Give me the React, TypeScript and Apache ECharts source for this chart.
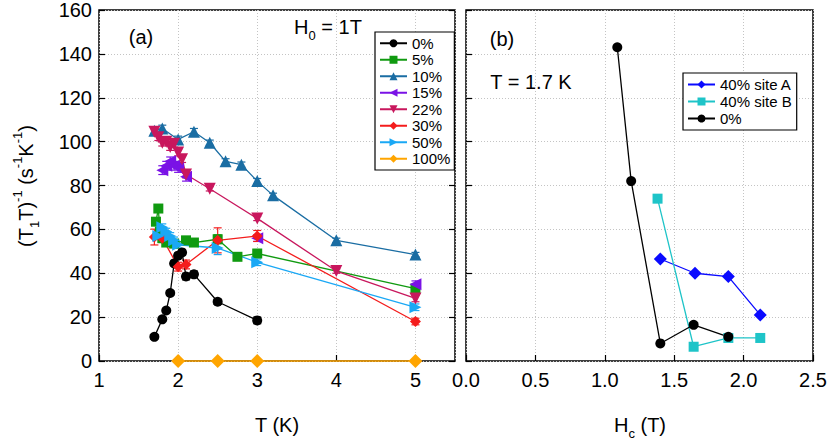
import React, { useEffect, useRef } from "react";
import * as echarts from "echarts";

const FONT = "'Liberation Sans', Arial, Helvetica, sans-serif";

// ---------- Panel (a): (T1T)^-1 vs T at H0 = 1T ----------
const T_0 = [1.7, 1.8, 1.85, 1.9, 1.95, 2.0, 2.05, 2.1, 2.2, 2.5, 3.0];
const R_0 = [11, 19, 23, 31, 44.5, 48, 49.5, 38.5, 39.5, 27, 18.5];
const E_0 = [0.8, 0.8, 0.8, 1, 1, 1.2, 1.2, 1.5, 1.5, 1.2, 1.5];

const T_5 = [1.72, 1.75, 1.77, 1.8, 1.85, 1.95, 2.1, 2.2, 2.5, 2.75, 3.0, 5.0];
const R_5 = [63.5, 69.5, 59, 56, 54, 53.5, 55, 54, 55.5, 47.5, 49, 33];
const E_5 = [1.5, 1.5, 1.5, 1.5, 1.5, 1.5, 1.5, 1.5, 2, 1.2, 1.5, 1.5];

const T_10 = [1.7, 1.8, 2.0, 2.2, 2.4, 2.6, 2.8, 3.0, 3.2, 4.0, 5.0];
const R_10 = [105, 106, 101, 104.5, 99.5, 91, 89.5, 82, 75.5, 55, 48.5];
const E_10 = [1.5, 1.5, 1.5, 1.5, 1.2, 1.2, 1.2, 1.2, 1, 1, 1];

const T_15 = [1.8, 1.85, 1.9, 1.95, 2.0, 2.1];
const R_15 = [87, 89, 91, 89, 88, 84];
const E_15 = [2, 2, 2, 2, 2, 2];
const T_15b = [3.0, 5.0];
const R_15b = [56, 35];
const E_15b = [1.5, 1.5];

const T_22 = [1.7, 1.75, 1.8, 1.85, 1.9, 1.95, 2.0, 2.05, 2.1, 2.4, 3.0, 4.0, 5.0];
const R_22 = [104.5, 102, 99.5, 100, 97.5, 99, 95, 92, 85, 78.5, 65, 41, 28.5];
const E_22 = [1.5, 1.5, 1.5, 1.5, 1.5, 1.5, 1.5, 1.5, 1.5, 1, 1, 1, 1.5];

const T_30 = [1.7, 1.8, 2.0, 2.1, 2.5, 3.0, 5.0];
const R_30 = [56.5, 56, 43, 44, 55, 57, 18];
const E_30 = [3.6, 2, 2, 2, 5.7, 2.5, 1.5];

const T_50 = [1.75, 1.8, 1.85, 1.9, 1.95, 2.0, 2.5, 3.0, 5.0];
const R_50 = [57, 61, 59, 57, 55, 53, 51.5, 45, 24.5];
const E_50 = [1.5, 1.5, 1.5, 1.5, 1.5, 1.5, 3, 1.5, 1.5];

const T_100 = [2.0, 2.5, 3.0, 5.0];
const R_100 = [0, 0, 0, 0];

// ---------- Panel (b): (T1T)^-1 vs Hc at T = 1.7 K ----------
const HC_A = [1.4, 1.65, 1.89, 2.12];
const R_A = [46.5, 40, 38.5, 21];
const HC_B = [1.38, 1.64, 1.89, 2.12];
const R_B = [74, 6.5, 10.5, 10.5];
const HC_0 = [1.09, 1.19, 1.4, 1.64, 1.89];
const R_0b = [143, 82, 8, 16.5, 11];

const LEGEND_A = ["0%", "5%", "10%", "15%", "22%", "30%", "50%", "100%"];
const LEGEND_B = ["40% site A", "40% site B", "0%"];

const X_A_TICKS = { min: 1, max: 5.5, interval: 1 };
const X_B_TICKS = { min: 0, max: 2.5, interval: 0.5 };
const Y_TICKS = { min: 0, max: 160, interval: 20 };

function pairs(xs: number[], ys: number[]) {
  return xs.map((x, i) => [x, ys[i]]);
}

function lineSeries(
  name: string, xs: number[], ys: number[], color: string,
  symbol: string, size: number, rotate: number, grid: number, showLine = true
) {
  return {
    type: "line",
    name,
    xAxisIndex: grid,
    yAxisIndex: grid === 0 ? 0 : 2,
    data: pairs(xs, ys),
    symbol,
    symbolSize: size,
    symbolRotate: rotate,
    showSymbol: true,
    showAllSymbol: true,
    itemStyle: { color, borderWidth: 0 },
    lineStyle: showLine ? { color, width: 1.3 } : { color, width: 0, opacity: 0 },
    emphasis: { disabled: true },
    silent: true,
    clip: false,
    z: 3,
  };
}

function errSeries(xs: number[], ys: number[], es: number[], color: string) {
  return {
    type: "custom",
    xAxisIndex: 0,
    yAxisIndex: 0,
    data: xs.map((x, i) => [x, ys[i], es[i]]),
    encode: { x: 0, y: 1 },
    silent: true,
    z: 3,
    renderItem: (_p: any, api: any) => {
      const x = api.value(0);
      const y = api.value(1);
      const e = api.value(2);
      const top = api.coord([x, y + e]);
      const bot = api.coord([x, y - e]);
      const w = 4;
      const st = { stroke: color, lineWidth: 1.2 };
      return {
        type: "group",
        children: [
          { type: "line", shape: { x1: top[0], y1: top[1], x2: bot[0], y2: bot[1] }, style: st },
          { type: "line", shape: { x1: top[0] - w, y1: top[1], x2: top[0] + w, y2: top[1] }, style: st },
          { type: "line", shape: { x1: bot[0] - w, y1: bot[1], x2: bot[0] + w, y2: bot[1] }, style: st },
        ],
      };
    },
  };
}

const C0 = "#000000";
const C5 = "#109a10";
const C10 = "#1a6da3";
const C15 = "#7a12e6";
const C22 = "#c8175d";
const C30 = "#f41c1c";
const C50 = "#1aa8f5";
const C100 = "#ffa500";
const CA = "#0a0aff";
const CB = "#1ec4c8";

const mainRich = {
  m: { fontSize: 20, fontFamily: FONT, fill: "#000", color: "#000", lineHeight: 30 },
  s: { fontSize: 13, fontFamily: FONT, fill: "#000", color: "#000", lineHeight: 13, verticalAlign: "bottom" },
  p: { fontSize: 13, fontFamily: FONT, fill: "#000", color: "#000", lineHeight: 13, verticalAlign: "top" },
};

function plainText(x: number, y: number, text: string, size = 20) {
  return {
    type: "text",
    x,
    y,
    silent: true,
    style: {
      text,
      fill: "#000",
      fontSize: size,
      fontFamily: FONT,
      align: "center",
      verticalAlign: "middle",
    },
  };
}

function richText(x: number, y: number, text: string, rotation = 0) {
  return {
    type: "text",
    x,
    y,
    rotation,
    silent: true,
    style: {
      text,
      rich: mainRich,
      fill: "#000",
      align: "center",
      verticalAlign: "middle",
    },
  };
}

const axisTick = { show: true, inside: true, length: 6, lineStyle: { color: "#000", width: 1.2 } };
const splitLine = { show: true, lineStyle: { color: "#c4c4c4", width: 1, type: [1, 2] } };
const labelStyle = { color: "#000", fontSize: 20, fontFamily: FONT };

const option = {
  animation: false,
  textStyle: { fontFamily: FONT },
  grid: [
    { left: 99, top: 10, width: 356, height: 351, show: true, borderColor: "#000", borderWidth: 1.5, backgroundColor: "transparent" },
    { left: 466, top: 10, width: 347, height: 351, show: true, borderColor: "#000", borderWidth: 1.5, backgroundColor: "transparent" },
  ],
  xAxis: [
    {
      type: "value", gridIndex: 0, ...X_A_TICKS,
      axisLine: { show: false }, axisTick, splitLine,
      axisLabel: {
        ...labelStyle, margin: 9, showMaxLabel: false,
        formatter: (v: number) => (Number.isInteger(v) ? String(v) : ""),
      },
    },
    {
      type: "value", gridIndex: 1, ...X_B_TICKS,
      axisLine: { show: false }, axisTick, splitLine,
      axisLabel: { ...labelStyle, margin: 9, formatter: (v: number) => v.toFixed(1) },
    },
  ],
  yAxis: [
    {
      type: "value", gridIndex: 0, position: "left", ...Y_TICKS,
      axisLine: { show: false }, axisTick, splitLine,
      axisLabel: { ...labelStyle, margin: 7 },
    },
    {
      type: "value", gridIndex: 0, position: "right", ...Y_TICKS,
      axisLine: { show: false }, axisTick, splitLine: { show: false },
      axisLabel: { show: false },
    },
    {
      type: "value", gridIndex: 1, position: "left", ...Y_TICKS,
      axisLine: { show: false }, axisTick, splitLine,
      axisLabel: { show: false },
    },
  ],
  legend: [
    {
      data: LEGEND_A,
      orient: "vertical",
      left: 375,
      top: 32,
      itemWidth: 27,
      itemHeight: 10,
      itemGap: 0,
      padding: [3, 4, 3, 4],
      backgroundColor: "#fff",
      borderColor: "#000",
      borderWidth: 1.2,
      selectedMode: false,
      textStyle: { fontSize: 15, fontFamily: FONT, color: "#000", lineHeight: 16.5 },
    },
    {
      data: LEGEND_B,
      orient: "vertical",
      left: 683,
      top: 73,
      itemWidth: 27,
      itemHeight: 10,
      itemGap: 0,
      padding: [3, 5, 3, 4],
      backgroundColor: "#fff",
      borderColor: "#000",
      borderWidth: 1.2,
      selectedMode: false,
      textStyle: { fontSize: 15, fontFamily: FONT, color: "#000", lineHeight: 17 },
    },
  ],
  series: [
    lineSeries("0%", T_0, R_0, C0, "circle", 10, 0, 0),
    errSeries(T_0, R_0, E_0, C0),
    lineSeries("5%", T_5, R_5, C5, "rect", 10, 0, 0),
    errSeries(T_5, R_5, E_5, C5),
    lineSeries("10%", T_10, R_10, C10, "triangle", 12, 0, 0),
    errSeries(T_10, R_10, E_10, C10),
    lineSeries("15%", T_15, R_15, C15, "triangle", 12, 90, 0),
    errSeries(T_15, R_15, E_15, C15),
    lineSeries("15%", T_15b, R_15b, C15, "triangle", 12, 90, 0, false),
    errSeries(T_15b, R_15b, E_15b, C15),
    lineSeries("22%", T_22, R_22, C22, "triangle", 12, 180, 0),
    errSeries(T_22, R_22, E_22, C22),
    lineSeries("30%", T_30, R_30, C30, "diamond", 11, 0, 0),
    errSeries(T_30, R_30, E_30, C30),
    lineSeries("50%", T_50, R_50, C50, "triangle", 12, -90, 0),
    errSeries(T_50, R_50, E_50, C50),
    lineSeries("100%", T_100, R_100, C100, "diamond", 14, 0, 0),
    lineSeries("40% site A", HC_A, R_A, CA, "diamond", 13, 0, 1),
    lineSeries("40% site B", HC_B, R_B, CB, "rect", 10, 0, 1),
    lineSeries("0%", HC_0, R_0b, C0, "circle", 10, 0, 1),
  ],
  graphic: [
    plainText(141, 37, "(a)"),
    richText(328, 27, "{m|H}{s|0}{m| = 1T}"),
    plainText(502, 39, "(b)"),
    plainText(531, 82, "T = 1.7 K"),
    plainText(277, 425, "T (K)"),
    richText(640, 425, "{m|H}{s|c}{m| (T)}"),
    richText(26, 186, "{m|(T}{s|1}{m|T)}{p|-1}{m| (s}{p|-1}{m|K}{p|-1}{m|)}", Math.PI / 2),
  ],
};

export default function App() {
  const ref = useRef<HTMLDivElement>(null);
  useEffect(() => {
    if (!ref.current) return;
    const chart = echarts.init(ref.current, null, { renderer: "svg" });
    chart.setOption(option as any);
    return () => chart.dispose();
  }, []);
  return (
    <div
      ref={ref}
      style={{ position: "fixed", left: 0, top: 0, width: 830, height: 443, background: "#fff" }}
    />
  );
}
